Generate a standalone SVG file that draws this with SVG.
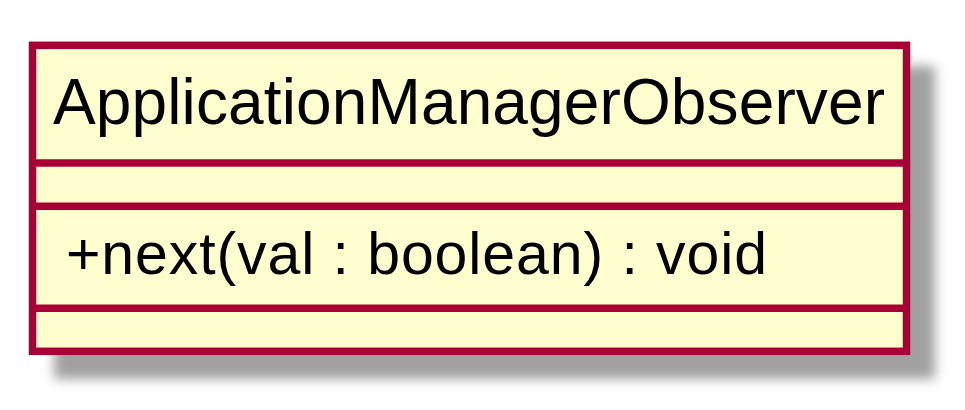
<svg xmlns="http://www.w3.org/2000/svg" width="965" height="410" viewBox="0 0 965 410">
  <style>
    .box { fill: #FEFECE; stroke: #A80036; stroke-width: 7.5; }
    .sep { stroke: #A80036; stroke-width: 7.5; }
    .name { font-family: "Liberation Sans", Arial, sans-serif; font-size: 64px; fill: #000000; }
    .member { font-family: "Liberation Sans", Arial, sans-serif; font-size: 59px; fill: #000000; }
  </style>
  <defs>
    <filter id="shadow" x="-10%" y="-20%" width="120%" height="140%">
      <feGaussianBlur stdDeviation="6"/>
    </filter>
  </defs>
  <g id="ApplicationManagerObserver">
    <rect x="54" y="66" width="881" height="313" fill="#A0A0A0" filter="url(#shadow)"/>
    <rect class="box" x="32.5" y="45.3" width="874" height="306"/>
    <text class="name" x="53" y="124" textLength="832" lengthAdjust="spacing">ApplicationManagerObserver</text>
    <line class="sep" x1="32.5" y1="163" x2="906.5" y2="163"/>
    <line class="sep" x1="32.5" y1="206.3" x2="906.5" y2="206.3"/>
    <text class="member" x="66" y="274" textLength="701" lengthAdjust="spacing">+next(val : boolean) : void</text>
    <line class="sep" x1="32.5" y1="308.3" x2="906.5" y2="308.3"/>
  </g>
  <g id="connectors"/>
</svg>
